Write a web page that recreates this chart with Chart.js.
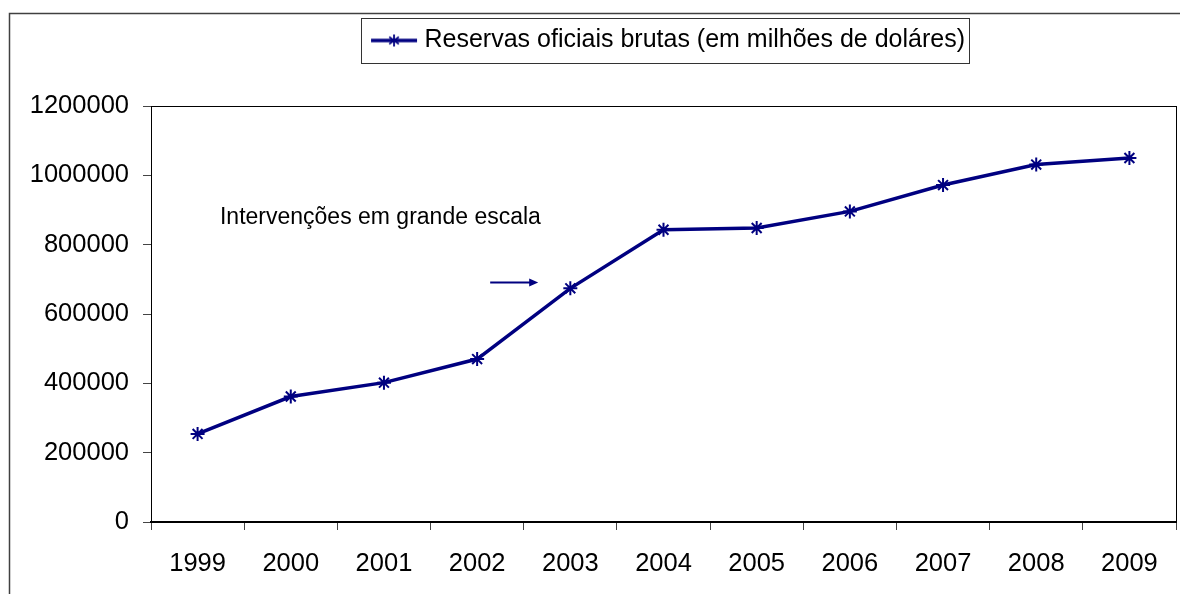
<!DOCTYPE html>
<html>
<head>
<meta charset="utf-8">
<script src="https://cdn.jsdelivr.net/npm/chart.js@4"></script>
<style>
  html, body { margin: 0; padding: 0; background: #fff; }
  #wrap { width: 1180px; height: 594px; }
</style>
</head>
<body>
<div id="wrap"><canvas id="reservasChart" width="1180" height="594"></canvas></div>
<script>
// --- data ---
const years = ['1999', '2000', '2001', '2002', '2003', '2004', '2005', '2006', '2007', '2008', '2009'];
const reservas = [254000, 362000, 402000, 470000, 674000, 843000, 848000, 896000, 972000, 1031000, 1050000];
const yTicks = [0, 200000, 400000, 600000, 800000, 1000000, 1200000];
const seriesName = 'Reservas oficiais brutas (em milhões de doláres)';
const noteText = 'Intervenções em grande escala';

const NAVY = '#000080';
const FONT = "'Liberation Sans', Arial, sans-serif";
Chart.defaults.font.family = FONT;
Chart.defaults.color = '#000';

// legend symbol: line with a star marker (Excel style)
const legendImg = document.createElement('canvas');
legendImg.width = 64; legendImg.height = 16;
(() => {
    const c = legendImg.getContext('2d');
    c.strokeStyle = NAVY;
    c.lineWidth = 3.5;
    c.beginPath(); c.moveTo(16, 8); c.lineTo(62, 8); c.stroke();
    c.lineWidth = 1.8;
    const cx = 39, cy = 8, r = 6;
    c.beginPath();
    c.moveTo(cx, cy - r); c.lineTo(cx, cy + r);
    c.moveTo(cx - r * 0.8, cy - r * 0.6); c.lineTo(cx + r * 0.8, cy + r * 0.6);
    c.moveTo(cx - r * 0.8, cy + r * 0.6); c.lineTo(cx + r * 0.8, cy - r * 0.6);
    c.stroke();
})();

// frames, legend box and the annotation
const decorations = {
    id: 'decorations',
    afterDraw(chart) {
        const ctx = chart.ctx;
        const a = chart.chartArea;
        ctx.save();
        // outer chart border (only left/top visible)
        ctx.strokeStyle = '#404040';
        ctx.lineWidth = 1.5;
        ctx.strokeRect(9.5, 13.5, 1300, 800);
        // plot area frame
        ctx.strokeStyle = '#000';
        ctx.lineWidth = 1;
        ctx.strokeRect(a.left + 0.5, a.top + 0.5, a.right - a.left, a.bottom - a.top);
        // legend box
        const hb = chart.legend.legendHitBoxes[0];
        if (hb) {
            ctx.strokeStyle = '#333';
            ctx.strokeRect(Math.round(hb.left) - 0.5, Math.round(hb.top) - 9.5,
                Math.round(hb.width) + 5, Math.round(hb.height) + 20);
        }
        // annotation text + arrow
        const x = chart.scales.x, y = chart.scales.y;
        ctx.fillStyle = '#000';
        ctx.font = '23px ' + FONT;
        ctx.textBaseline = 'alphabetic';
        ctx.textAlign = 'left';
        ctx.fillText(noteText, x.getPixelForValue(0.24), y.getPixelForValue(860000));
        const ax0 = x.getPixelForValue(3.14), ax1 = x.getPixelForValue(3.655);
        const ay = Math.round(y.getPixelForValue(692000)) + 0.5;
        ctx.strokeStyle = NAVY;
        ctx.fillStyle = NAVY;
        ctx.lineWidth = 2;
        ctx.beginPath(); ctx.moveTo(ax0, ay); ctx.lineTo(ax1 - 6, ay); ctx.stroke();
        ctx.beginPath();
        ctx.moveTo(ax1, ay); ctx.lineTo(ax1 - 9, ay - 4); ctx.lineTo(ax1 - 9, ay + 4);
        ctx.closePath(); ctx.fill();
        ctx.restore();
    }
};

new Chart(document.getElementById('reservasChart'), {
    type: 'line',
    data: {
        labels: years,
        datasets: [{
            label: seriesName,
            data: reservas,
            borderColor: NAVY,
            backgroundColor: NAVY,
            borderWidth: 3.5,
            tension: 0,
            pointStyle: 'star',
            pointRadius: 7,
            pointBorderWidth: 2,
            pointBorderColor: NAVY,
            fill: false
        }]
    },
    options: {
        responsive: false,
        animation: false,
        layout: { autoPadding: false, padding: { top: 8, right: 4, bottom: 0, left: 0 } },
        plugins: {
            legend: {
                position: 'top',
                fullSize: false,
                labels: {
                    color: '#000',
                    font: { size: 25, family: FONT },
                    usePointStyle: true,
                    pointStyle: legendImg,
                    pointStyleWidth: 50,
                    padding: 20
                }
            },
            tooltip: { enabled: false }
        },
        scales: {
            x: {
                offset: true,
                grid: { offset: true, drawOnChartArea: false, drawTicks: true, tickLength: 8, color: '#444' },
                border: { display: true, color: '#000', width: 2 },
                ticks: { font: { size: 25.5 }, color: '#000', padding: 19, maxRotation: 0 },
                afterFit(s) { s.height = 72; s.paddingLeft = 0; s.paddingRight = 0; }
            },
            xTop: {
                position: 'top',
                display: true,
                grid: { display: false },
                ticks: { display: false },
                border: { display: false },
                afterFit(s) { s.height = 43; }
            },
            y: {
                min: 0,
                max: 1200000,
                afterBuildTicks(s) { s.ticks = yTicks.map(v => ({ value: v })); },
                grid: { drawOnChartArea: false, drawTicks: true, tickLength: 8, color: '#444' },
                border: { display: true, color: '#000', width: 1 },
                ticks: { font: { size: 25.5 }, color: '#000', padding: 14, callback: v => String(v) },
                afterFit(s) { s.width = 151; }
            }
        }
    },
    plugins: [decorations]
});
</script>
</body>
</html>
